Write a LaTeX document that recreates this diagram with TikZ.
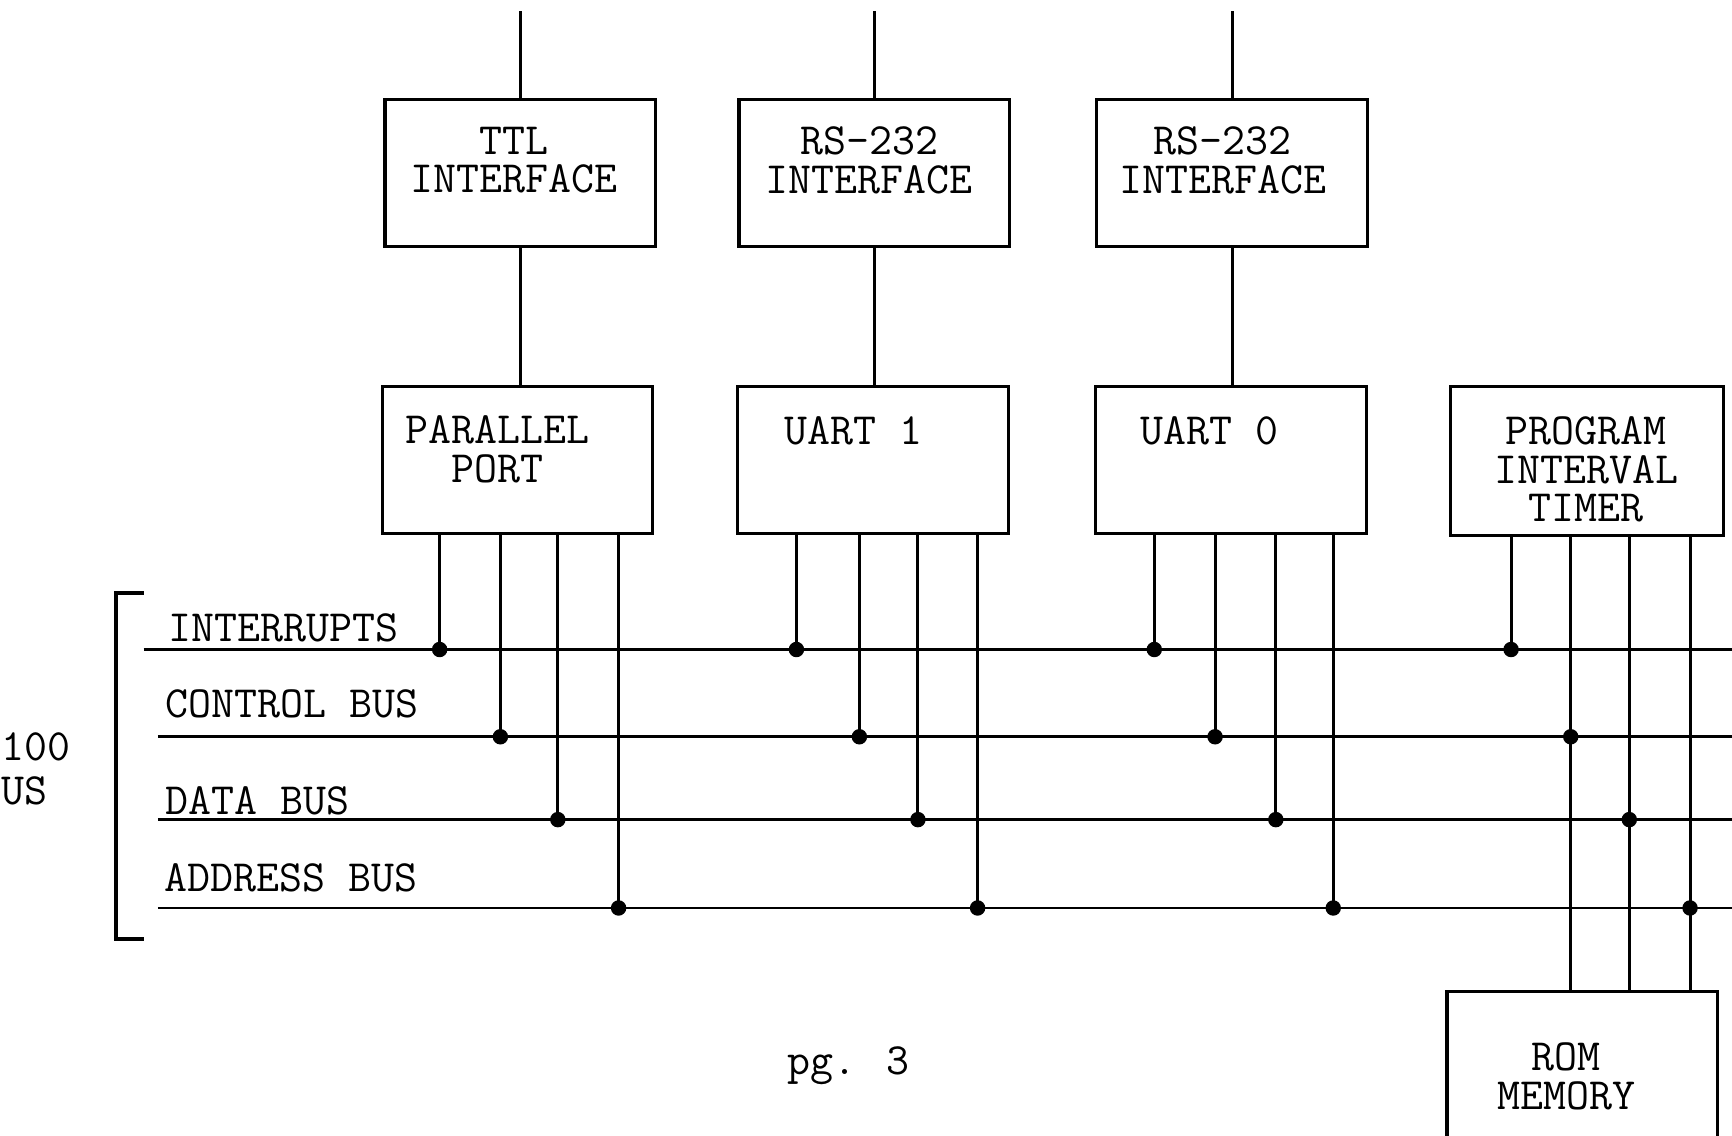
\documentclass[tikz,border=0pt]{standalone}
\usepackage{tikz}
\usetikzlibrary{calc}

\tikzset{
  blk/.style={draw, line width=0.8pt, minimum width=2.45cm, minimum height=1.33cm, inner sep=0pt},
  txt/.style={font=\fontsize{11.5}{10}\selectfont\ttfamily, align=center, inner sep=0pt},
  wire/.style={line width=0.75pt},
  tap/.style={fill, circle, inner sep=0pt, minimum size=0.14cm}
}

\begin{document}
\begin{tikzpicture}
  \useasboundingbox (0,0) rectangle (15.68,-10.28);
  \clip (0,0) rectangle (15.68,-10.28);

  % interface boxes
  \node[blk] (ttl) at (4.71,-1.565) {};
  \node[txt] (ttlt) at (4.65,-1.45) {TTL\\INTERFACE};
  \node[blk] (rsa) at (7.915,-1.565) {};
  \node[txt] (rsat) at (7.87,-1.45) {RS-232\\INTERFACE};
  \node[blk] (rsb) at (11.155,-1.565) {};
  \node[txt] (rsbt) at (11.07,-1.45) {RS-232\\INTERFACE};

  % port boxes
  \node[blk] (ppt) at (4.685,-4.165) {};
  \node[txt] (pptt) at (4.50,-4.07) {PARALLEL\\PORT};
  \node[blk] (uaa) at (7.905,-4.165) {};
  \node[txt] (uaat) at (7.73,-3.90) {UART 1};
  \node[blk] (uab) at (11.145,-4.165) {};
  \node[txt] (uabt) at (10.95,-3.90) {UART 0};
  \node[blk, minimum width=2.47cm, minimum height=1.35cm] (pit) at (14.365,-4.175) {};
  \node[txt] (pitt) at (14.36,-4.25) {PROGRAM\\INTERVAL\\TIMER};
  \node[blk, minimum height=1.62cm] (rom) at (14.325,-9.79) {};
  \node[txt] (romt) at (14.18,-9.745) {ROM\\MEMORY};

  % lines to the outside
  \coordinate (ttltop) at (4.71,-0.10);
  \coordinate (rsatop) at (7.915,-0.10);
  \coordinate (rsbtop) at (11.155,-0.10);
  \draw[wire] (ttltop) -- (ttl.north);
  \draw[wire] (rsatop) -- (rsa.north);
  \draw[wire] (rsbtop) -- (rsb.north);
  \draw[wire] (ttl.south) -- (ttl.south |- ppt.north);
  \draw[wire] (rsa.south) -- (rsa.south |- uaa.north);
  \draw[wire] (rsb.south) -- (rsb.south |- uab.north);

  % the bus
  \coordinate (intL) at (1.30,-5.88);  \coordinate (intR) at (15.75,-5.88);
  \coordinate (ctlL) at (1.43,-6.67);  \coordinate (ctlR) at (15.75,-6.67);
  \coordinate (datL) at (1.43,-7.42);  \coordinate (datR) at (15.75,-7.42);
  \coordinate (adrL) at (1.43,-8.22);  \coordinate (adrR) at (15.75,-8.22);
  \draw[wire] (intL) -- (intR);
  \draw[wire] (ctlL) -- (ctlR);
  \draw[wire] (datL) -- (datR);
  \draw[wire] (adrL) -- (adrR);

  \node[txt, anchor=base west] (intl) at (1.52,-5.81) {INTERRUPTS};
  \node[txt, anchor=base west] (ctll) at (1.49,-6.50) {CONTROL BUS};
  \node[txt, anchor=base west] (datl) at (1.49,-7.37) {DATA BUS};
  \node[txt, anchor=base west] (adrl) at (1.48,-8.07) {ADDRESS BUS};

  \draw[line width=1.1pt] (1.30,-5.37) -- (1.05,-5.37) -- (1.05,-8.50) -- (1.30,-8.50);
  \node[txt, font=\fontsize{11.5}{11.4}\selectfont\ttfamily] (sbus) at (0.12,-6.96) {S-100\\BUS};

  % taps from the boxes onto the bus
  \foreach \blkname/\xa/\xb/\xc/\xd in {ppt/3.98/4.53/5.05/5.60, uaa/7.21/7.78/8.31/8.85,
      uab/10.45/11.00/11.55/12.07, pit/13.68/14.22/14.75/15.30} {
    \coordinate (ti) at (\xa,-5.88);
    \coordinate (tc) at (\xb,-6.67);
    \coordinate (td) at (\xc,-7.42);
    \coordinate (ta) at (\xd,-8.22);
    \draw[wire] (\blkname.south -| ti) -- (ti);
    \draw[wire] (\blkname.south -| tc) -- (tc);
    \draw[wire] (\blkname.south -| td) -- (td);
    \draw[wire] (\blkname.south -| ta) -- (ta);
    \node[tap] at (ti) {};
    \node[tap] at (tc) {};
    \node[tap] at (td) {};
    \node[tap] at (ta) {};
  }

  % timer lines run on to the rom
  \coordinate (pitc) at (14.22,-6.67);
  \coordinate (pitd) at (14.75,-7.42);
  \coordinate (pita) at (15.30,-8.22);
  \draw[wire] (pitc) -- (rom.north -| pitc);
  \draw[wire] (pitd) -- (rom.north -| pitd);
  \draw[wire] (pita) -- (rom.north -| pita);

  \node[txt] (page) at (7.68,-9.65) {pg. 3};
\end{tikzpicture}
\end{document}
